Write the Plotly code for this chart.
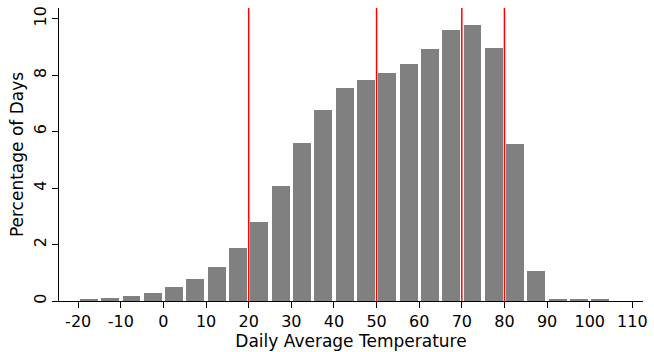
import plotly.graph_objects as go

# Bin centers (5-degree bins) and percentages of days
bin_centers = [-17.5, -12.5, -7.5, -2.5, 2.5, 7.5, 12.5, 17.5, 22.5, 27.5, 32.5, 37.5,
               42.5, 47.5, 52.5, 57.5, 62.5, 67.5, 72.5, 77.5, 82.5, 87.5, 92.5, 97.5, 102.5]
pct_days = [0.05, 0.09, 0.16, 0.29, 0.48, 0.79, 1.21, 1.88, 2.80, 4.07, 5.60, 6.78,
            7.53, 7.84, 8.06, 8.41, 8.94, 9.61, 9.79, 8.98, 5.55, 1.06, 0.07, 0.05, 0.04]
cutoffs = [20, 50, 70, 80]
x_ticks = [-20, -10, 0, 10, 20, 30, 40, 50, 60, 70, 80, 90, 100, 110]
y_ticks = [0, 2, 4, 6, 8, 10]

fig = go.Figure()
fig.add_trace(go.Bar(x=bin_centers, y=pct_days, width=4.2,
                     marker=dict(color="#808080", line=dict(width=0)),
                     showlegend=False, hoverinfo="skip"))

for c in cutoffs:
    fig.add_shape(type="line", xref="x", yref="paper", x0=c, x1=c, y0=0, y1=1,
                  line=dict(color="red", width=1.5), layer="above")

font = dict(family="DejaVu Sans", size=16, color="black")
fig.update_layout(
    width=654, height=352,
    margin=dict(l=59, r=6, t=7, b=51),
    plot_bgcolor="white", paper_bgcolor="white",
    font=font, bargap=0,
    xaxis=dict(range=[-24.5, 112.5], tickmode="array", tickvals=x_ticks,
               ticktext=[str(v) for v in x_ticks],
               showgrid=False, zeroline=False, showline=True, linecolor="black", linewidth=1,
               ticks="outside", ticklen=6, tickcolor="black",
               tickfont=dict(family="DejaVu Sans", size=16),
               title=dict(text="Daily Average Temperature", font=dict(family="DejaVu Sans", size=17),
                          standoff=0)),
    yaxis=dict(range=[0, 10.38], tickmode="array", tickvals=y_ticks,
               showgrid=False, zeroline=False, showline=True, linecolor="black", linewidth=1,
               ticks="outside", ticklen=6, tickcolor="black", tickangle=-90,
               tickfont=dict(family="DejaVu Sans", size=16),
               title=dict(text="Percentage of Days", font=dict(family="DejaVu Sans", size=17),
                          standoff=2)),
)

fig.write_html("out.html")
